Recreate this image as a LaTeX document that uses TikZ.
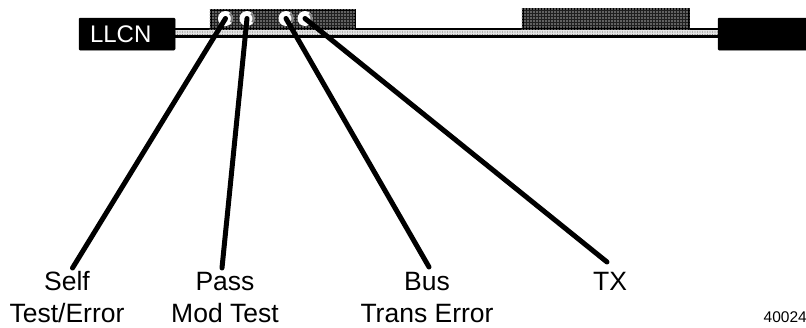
\documentclass[tikz,border=0pt]{standalone}
\usepackage{fontspec}
\setmainfont{Liberation Sans}
\usetikzlibrary{patterns.meta}
\tikzset{
  blackbox/.style={fill=black,draw=black,line width=0.5pt,rounded corners=1pt,inner sep=0pt,minimum height=32pt,text=white,font=\fontsize{24}{24}\selectfont},
  module/.style={draw=black,line width=2pt,fill=black!88,inner sep=0pt},
  led/.style={circle,fill=white,inner sep=0pt,minimum size=15pt},
  lead/.style={line width=5pt,line cap=round},
  lbl/.style={font=\fontsize{26.5}{26.5}\selectfont,inner sep=0pt,anchor=base},
  moddots/.style={pattern={Dots[distance=3pt,radius=0.85pt]},pattern color=black!35},
  bardots/.style={pattern={Dots[distance=2.5pt,radius=0.55pt]},pattern color=black!50},
}
\begin{document}
\begin{tikzpicture}[x=1pt,y=-1pt]
\useasboundingbox (0,0) rectangle (806,327);
% bus bar
\fill[black] (175,27.5) rectangle (718,37.5);
\fill[black!10] (175,30) rectangle (718,35);
\fill[bardots] (175,30) rectangle (718,35);
% modules
\node[module,minimum width=144pt,minimum height=18pt] (m1) at (282.5,19) {};
\node[module,minimum width=166pt,minimum height=19pt] (m2) at (605.5,18.5) {};
\fill[moddots] (m1.south west) rectangle (m1.north east);
\fill[moddots] (m2.south west) rectangle (m2.north east);
% end blocks
\node[blackbox,minimum width=96pt,text width=96pt] (llcn) at (127,34) {\hspace*{11pt}LLCN};
\node[blackbox,minimum width=90pt] (endb) at (763,34) {};
% leds
\node[led] (a) at (225.5,18.5) {};
\node[led] (b) at (247,18.5) {};
\node[led] (c) at (286,18.5) {};
\node[led] (d) at (305,18.5) {};
\foreach \n in {a,b,c,d}{
  \draw[black!50,line width=2pt] (\n)+(-35:6.5pt) arc (-35:50:6.5pt);
}
% leads
\coordinate (ea) at (72.5,268);
\coordinate (eb) at (222,268);
\coordinate (ec) at (429,267);
\coordinate (ed) at (607,262);
\draw[lead] (a.center) -- (ea);
\draw[lead] (b.center) -- (eb);
\draw[lead] (c.center) -- (ec);
\draw[lead] (d.center) -- (ed);
% labels
\node[lbl] (l1) at (67,290) {Self};
\node[lbl] (l1b) at (67,322) {Test/Error};
\node[lbl] (l2) at (225,290) {Pass};
\node[lbl] (l2b) at (225,322) {Mod Test};
\node[lbl] (l3) at (427,290) {Bus};
\node[lbl] (l3b) at (427,322) {Trans Error};
\node[lbl] (l4) at (610,290) {TX};
\node[font=\fontsize{15.5}{15.5}\selectfont,inner sep=0pt,anchor=base east] (num) at (807,322) {40024};
\end{tikzpicture}
\end{document}
